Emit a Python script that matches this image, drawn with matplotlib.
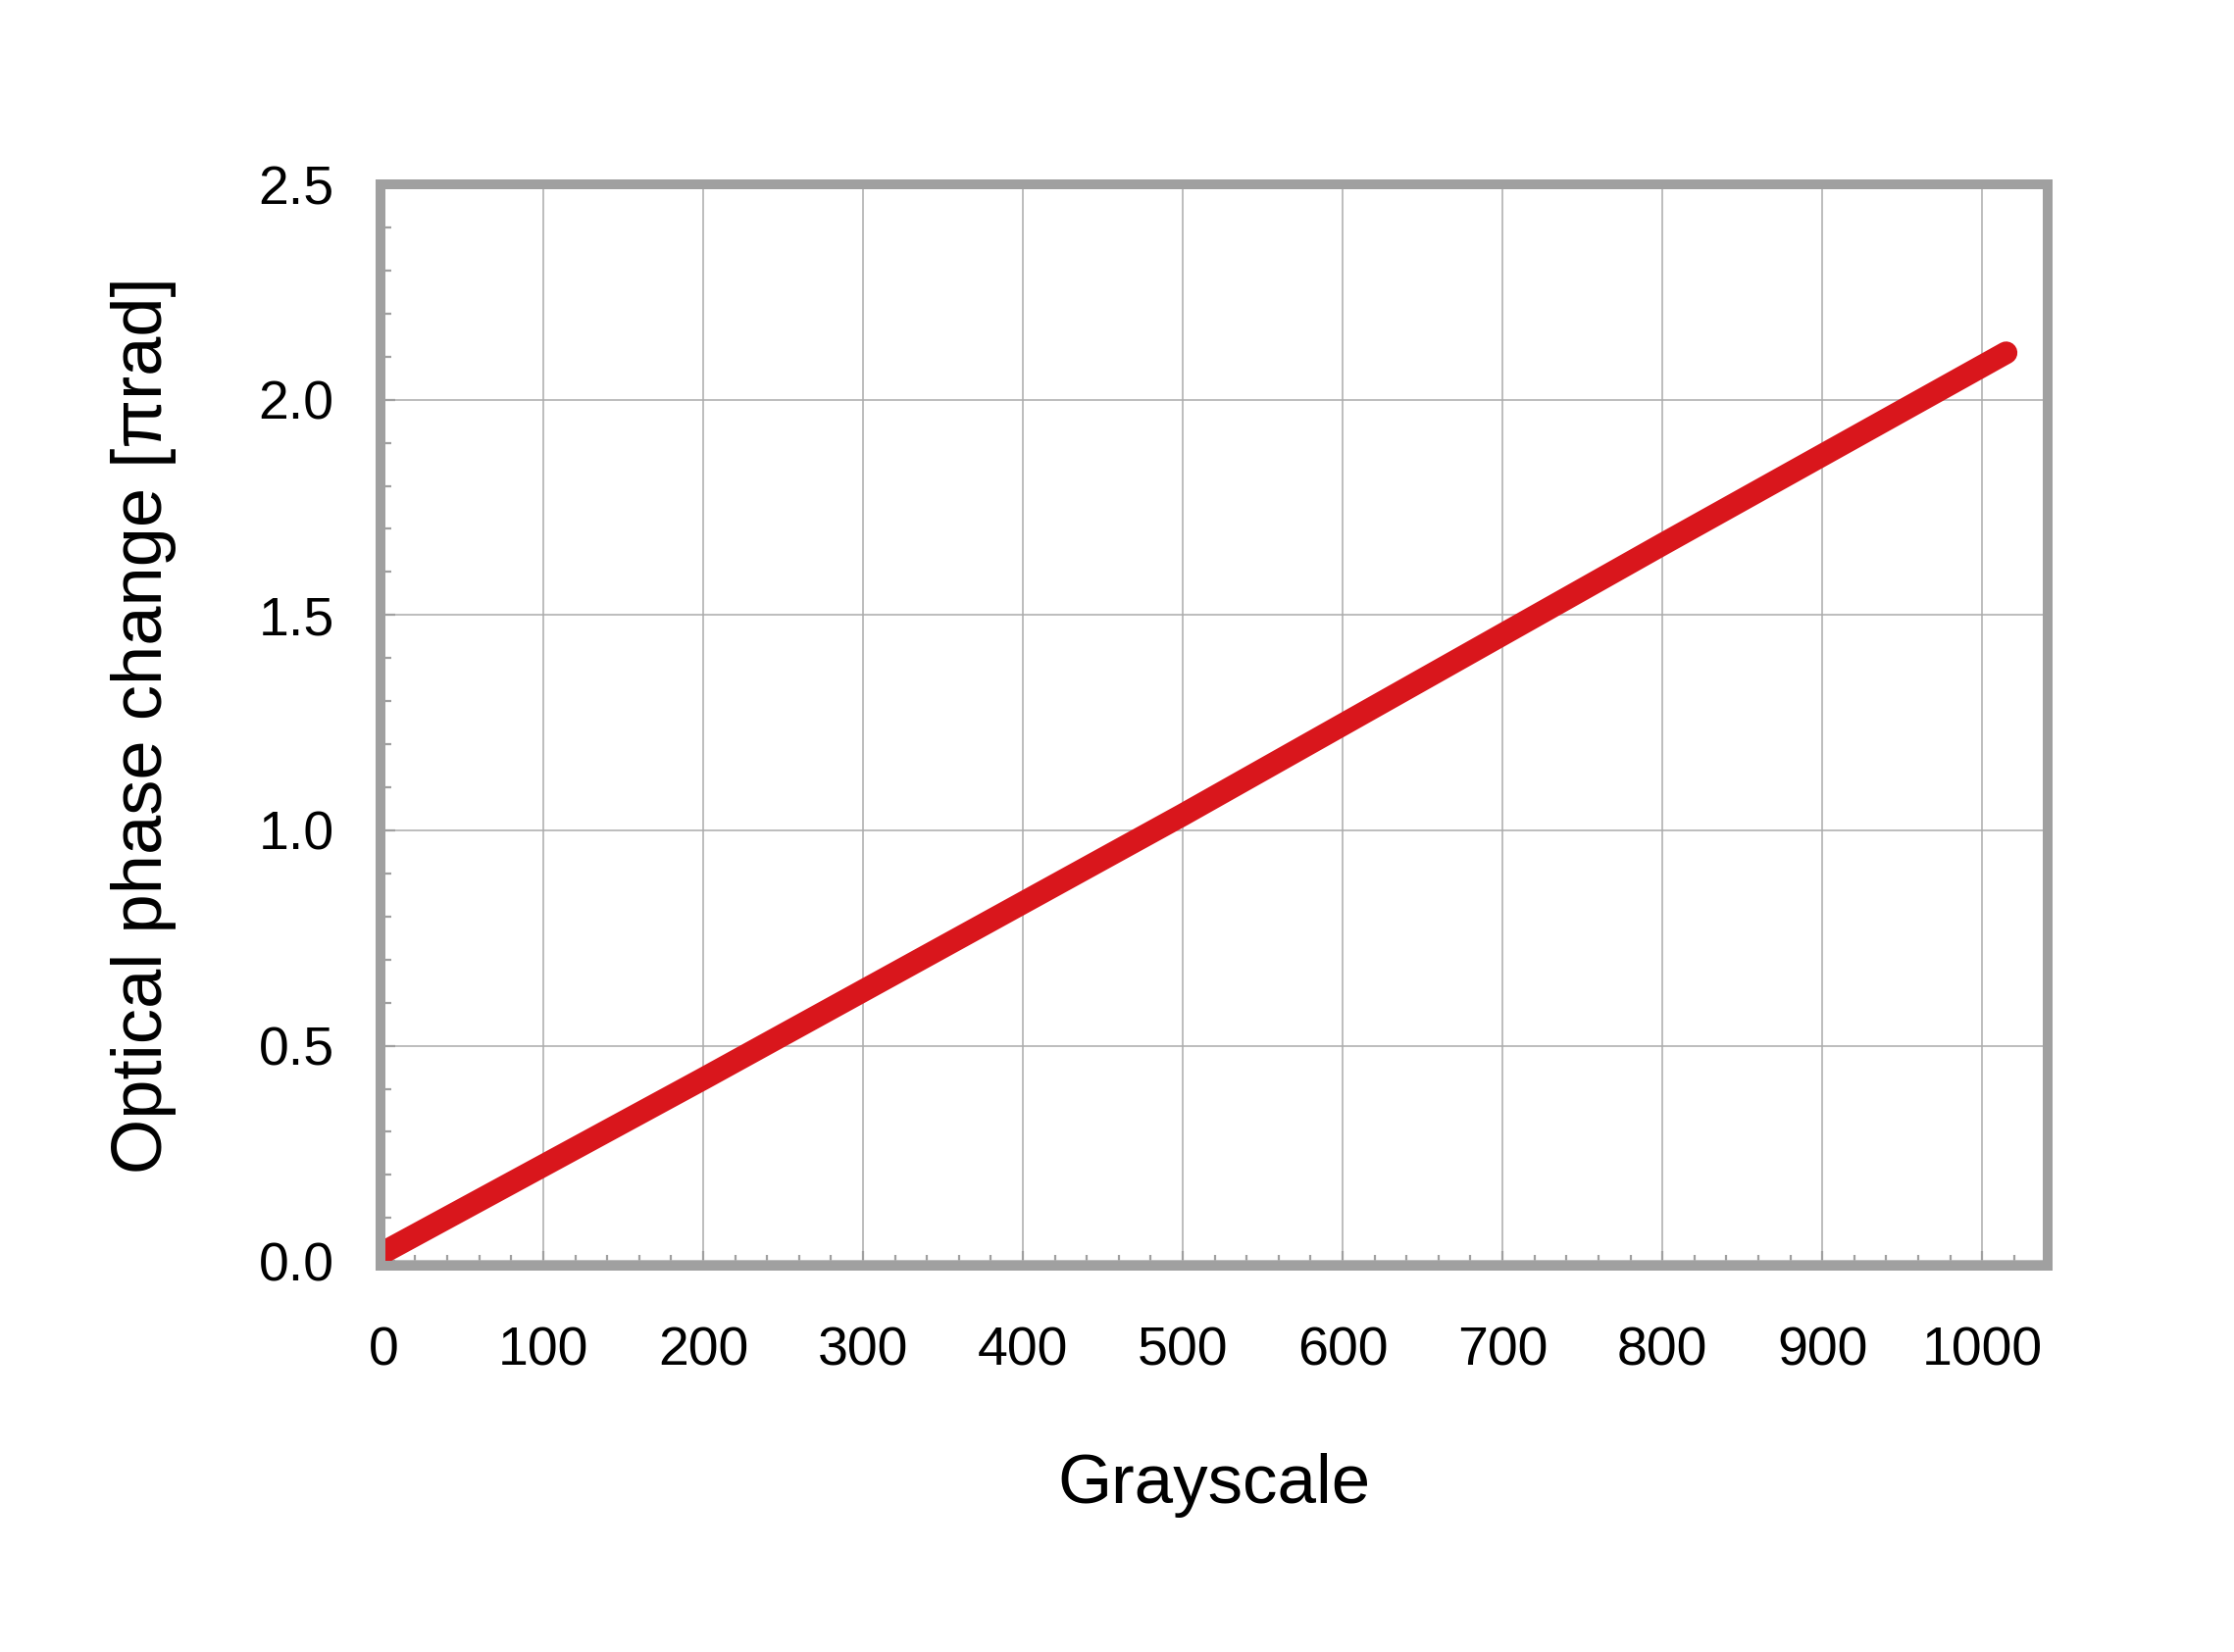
import matplotlib
matplotlib.use("Agg")
import matplotlib.pyplot as plt
from matplotlib.ticker import MultipleLocator

# Data
grayscale = [0, 200, 500, 800, 1015]
phase = [0.02, 0.423, 1.036, 1.664, 2.109]

x_ticks = [0, 100, 200, 300, 400, 500, 600, 700, 800, 900, 1000]
y_ticks = [0.0, 0.5, 1.0, 1.5, 2.0, 2.5]
x_label = "Grayscale"
y_label = "Optical phase change [\u03c0rad]"

plt.rcParams['font.family'] = ['Liberation Sans', 'DejaVu Sans']

DPI = 200
fig = plt.figure(figsize=(2278 / DPI, 1685 / DPI), dpi=DPI)
ax = fig.add_axes([0.1703, 0.2338, 0.9166 - 0.1703, 0.8884 - 0.2338])

grid_c = '#ababab'
spine_c = '#a0a0a0'

ax.plot(grayscale, phase, color='#d9161c', lw=8.3, solid_capstyle='round', zorder=3)

ax.set_xlim(-1.8, 1041)
ax.set_ylim(-0.011, 2.495)
ax.set_xticks(x_ticks)
ax.set_yticks(y_ticks)
ax.set_yticklabels([f"{v:.1f}" for v in y_ticks])
ax.xaxis.set_minor_locator(MultipleLocator(20))
ax.yaxis.set_minor_locator(MultipleLocator(0.1))

ax.grid(True, which='major', color=grid_c, lw=0.55, zorder=1)
ax.set_axisbelow(True)

for s in ax.spines.values():
    s.set_color(spine_c)
    s.set_linewidth(3.6)
    s.set_zorder(5)

ax.tick_params(which='both', direction='in', color=spine_c, top=False, right=False)
ax.tick_params(which='major', length=5.5, width=0.8, labelsize=20, labelcolor='black')
ax.tick_params(axis='x', which='major', pad=22)
ax.tick_params(axis='y', which='major', pad=17)
ax.tick_params(which='minor', length=3.8, width=0.8)

ax.set_xlabel(x_label, fontsize=25.5, va='baseline')
ax.xaxis.set_label_coords(0.5, -0.219)
ax.set_ylabel(y_label, fontsize=26, va='center')
ax.yaxis.set_label_coords(-0.142, 0.5)

fig.savefig('out.png', dpi=DPI, facecolor='white')
